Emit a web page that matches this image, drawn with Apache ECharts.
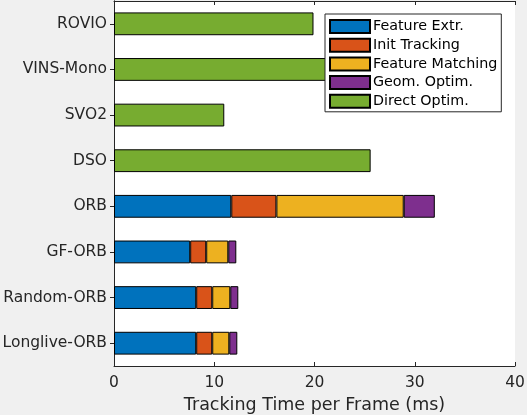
<!DOCTYPE html>
<html><head><meta charset="utf-8">
<script src="https://cdn.jsdelivr.net/npm/echarts@6/dist/echarts.min.js"></script>
<style>html,body{margin:0;padding:0;background:#f0f0f0;}#c{width:527px;height:415px;}</style>
</head><body><div id="c"></div>
<script>
const categories = ['ROVIO','VINS-Mono','SVO2','DSO','ORB','GF-ORB','Random-ORB','Longlive-ORB'];
const featureExtr   = [null, null, null, null, 11.7, 7.6, 8.2, 8.2];
const initTracking  = [null, null, null, null, 4.5, 1.6, 1.6, 1.6];
const featureMatch  = [null, null, null, null, 12.7, 2.2, 1.8, 1.7];
const geomOptim     = [null, null, null, null, 3.1, 0.8, 0.8, 0.8];
const directOptim   = [19.9, 24.0, 11.0, 25.6, null, null, null, null];
const xTicks = [0, 10, 20, 30, 40];
const seriesNames = ['Feature Extr.','Init Tracking','Feature Matching','Geom. Optim.','Direct Optim.'];
const seriesData = [featureExtr, initTracking, featureMatch, geomOptim, directOptim];
const colors = ['#0072BD','#D95319','#EDB120','#7E2F8E','#77AC30'];

const font = 'DejaVu Sans';
const axisColor = '#262626';
const chart = echarts.init(document.getElementById('c'), null, {renderer:'canvas'});
chart.setOption({
  animation:false,
  backgroundColor:'#f0f0f0',
  textStyle:{fontFamily:font},
  grid:{left:114, top:1, width:401, height:365, show:true, backgroundColor:'#fff', borderWidth:0,
        containLabel:false, outerBoundsMode:'none'},
  legend:{
    orient:'vertical', left:325, top:14,
    backgroundColor:'#fff', borderColor:'#262626', borderWidth:1, borderRadius:0,
    padding:[5,4,3,4], itemGap:3.7, itemWidth:40, itemHeight:13,
    icon:'rect',
    textStyle:{fontFamily:font, fontSize:14.3, color:'#000', padding:[0,0,0,-2]},
    data:seriesNames
  },
  xAxis:[{
    type:'value', min:xTicks[0], max:xTicks[xTicks.length-1], interval:10,
    position:'bottom',
    name:'Tracking Time per Frame (ms)', nameLocation:'middle', nameGap:30,
    nameTextStyle:{fontFamily:font, fontSize:17.5, color:axisColor},
    axisLine:{show:true, lineStyle:{color:axisColor, width:1}},
    axisTick:{show:true, inside:true, length:4, lineStyle:{color:axisColor}},
    axisLabel:{fontFamily:font, fontSize:15.5, color:axisColor, margin:9},
    splitLine:{show:false}
  },{
    type:'value', min:xTicks[0], max:xTicks[xTicks.length-1], interval:10,
    position:'top',
    axisLine:{show:true, lineStyle:{color:axisColor, width:1}},
    axisTick:{show:true, inside:true, length:4, lineStyle:{color:axisColor}},
    axisLabel:{show:false}, splitLine:{show:false}
  }],
  yAxis:[{
    type:'category', data:categories, inverse:true, position:'left',
    axisLine:{show:true, lineStyle:{color:axisColor, width:1}},
    axisTick:{show:true, inside:true, length:4, alignWithLabel:true, lineStyle:{color:axisColor}},
    axisLabel:{fontFamily:font, fontSize:15.5, color:axisColor, margin:7}
  },{
    type:'category', data:categories, inverse:true, position:'right',
    axisLine:{show:true, lineStyle:{color:axisColor, width:1}},
    axisTick:{show:true, inside:true, length:4, alignWithLabel:true, lineStyle:{color:axisColor}},
    axisLabel:{show:false}
  }],
  series: seriesNames.map((n,i)=>({
    name:n, type:'bar', stack:'total', barWidth:'50%',
    xAxisIndex:0, yAxisIndex:0,
    itemStyle:{color:colors[i], borderColor:'#000', borderWidth:1},
    data:seriesData[i].map(v=> v===null ? '-' : v)
  }))
});
</script></body></html>
